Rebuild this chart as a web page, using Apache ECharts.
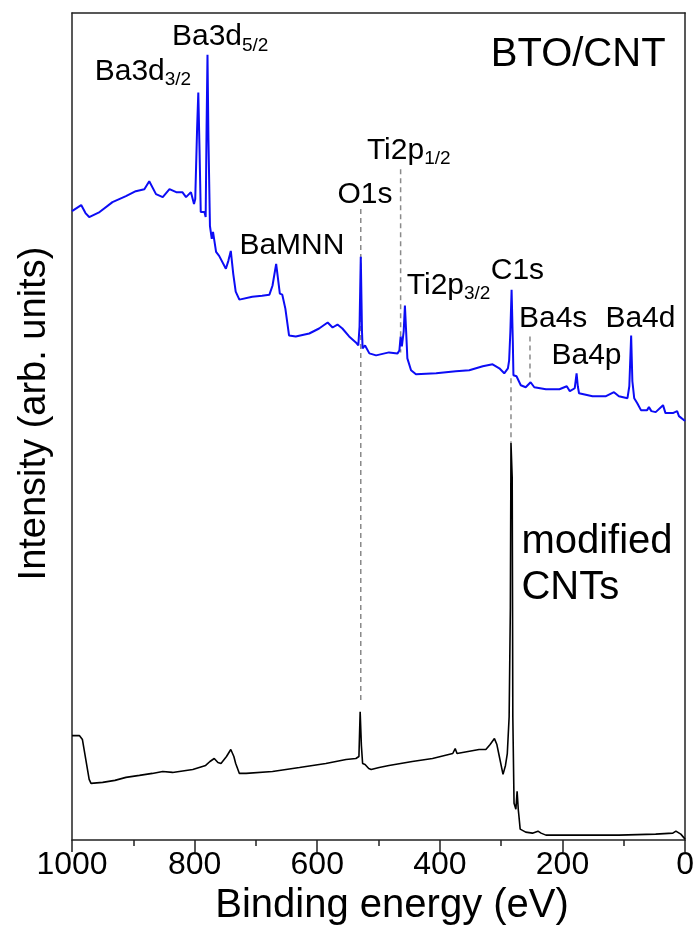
<!DOCTYPE html>
<html>
<head>
<meta charset="utf-8">
<script src="https://cdn.jsdelivr.net/npm/echarts@6/dist/echarts.min.js"></script>
<style>
  html, body { margin: 0; padding: 0; background: #fff; }
  #chart { width: 697px; height: 931px; }
</style>
</head>
<body>
<div id="chart"></div>
<script>
// BTO/CNT survey spectrum (upper trace): binding energy (eV) and intensity (arb. units)
const btoCntEnergy = [1000, 985, 978, 972, 955, 934, 912, 896, 882, 874, 863, 852, 841, 830, 820, 814, 806, 801, 799, 796, 794, 792, 790, 784, 782, 780.5, 779, 777.5, 775, 772, 770, 765, 760, 749, 745, 741, 737, 733, 727, 706, 690, 678, 673, 667, 661, 657, 652, 646, 635, 613, 597, 583, 575, 567, 559, 548, 537, 533, 531, 529, 527, 526, 522, 515, 504, 483, 469, 466, 464, 462, 461, 459, 457, 455, 453, 447, 439, 406, 374, 352, 341, 330, 314, 303, 295, 289, 287, 285, 283, 281, 280, 277, 275, 272, 268, 260, 252, 246, 227, 205, 193, 188, 180, 177, 175, 173, 151, 129, 116, 108, 94, 91, 88, 86, 83, 78, 72, 62, 59, 55, 48, 36, 32, 20, 13, 10, 0];
const btoCntIntensity = [216, 222, 214, 210, 215, 225, 231, 236, 238, 246, 233, 230, 238, 235, 235, 230, 235, 223, 228, 298, 335, 278, 215, 215, 210, 300, 373, 290, 201, 188, 195, 175, 171, 158, 166, 176, 153, 135, 127, 130, 131, 132, 141, 163, 133, 132, 118, 91, 90, 93, 98, 104, 99, 102, 98, 90, 84, 81, 100, 170, 95, 78, 81, 73, 71, 74, 73, 76, 90, 80, 78, 95, 121, 95, 68, 56, 52, 53, 55, 56, 58, 60, 62, 58, 53, 58, 66, 95, 137, 85, 51, 52, 50, 52, 41, 39, 44, 39, 37, 37, 40, 35, 38, 53, 40, 33, 30, 30, 34, 30, 28, 40, 91, 45, 28, 23, 16, 16, 19, 15, 14, 21, 13, 13, 15, 10, 5];

// Modified CNTs survey spectrum (lower trace)
const cntEnergy = [1000, 988, 983, 972, 969, 950, 930, 912, 890, 869, 852, 836, 803, 782, 775, 768, 762, 757, 748, 741, 736, 733, 727, 716, 673, 629, 586, 553, 537, 532, 530, 528, 526, 522, 516, 512, 499, 483, 445, 412, 379, 375, 372, 336, 325, 318, 311, 307, 303, 297, 293, 290, 287, 285, 284, 283, 282, 281, 279, 276, 274, 272, 271, 269, 260, 249, 240, 235, 227, 173, 108, 48, 20, 15, 7, 0];
const cntIntensity = [105, 105, 101, 61, 57, 58, 60, 63, 65, 67, 69, 68, 71, 75, 79, 82, 78, 77, 84, 91, 84, 77, 67, 67, 69, 73, 77, 81, 82, 84, 129, 95, 77, 76, 72, 71, 73, 75, 79, 82, 87, 92, 87, 91, 91, 96, 102, 96, 84, 66, 75, 87, 124, 234, 399, 399, 364, 124, 37, 31, 49, 30, 24, 11, 8, 7, 9, 7, 5, 5, 5, 6, 7, 9, 6, 1];

// Dashed peak guides: energy and vertical extent on the full-height intensity scale
const guideEnergy = [529, 464, 284, 253];
const guideTop = [634, 674, 464, 506];
const guideBottom = [140, 490, 399, 461];

// Peak assignments (text, left edge energy, centre height on the full-height scale)
const peakText = ['Ba3d_{3/2}', 'Ba3d_{5/2}', 'BaMNN', 'O1s', 'Ti2p_{1/2}', 'Ti2p_{3/2}', 'C1s', 'Ba4s', 'Ba4p', 'Ba4d'];
const peakLabelEnergy = [963, 837, 727, 567, 519, 454, 317, 271, 218, 130];
const peakLabelHeight = [772, 807, 597, 648, 693, 557, 572, 524, 487, 524];

// Sample names
const sampleText = ['BTO/CNT', 'modified\nCNTs'];
const sampleLabelEnergy = [317, 267];
const sampleLabelHeight = [789, 276];

// Axis ticks
const xTickMin = 0, xTickMax = 1000, xTickStep = 200;

const FONT = "'Liberation Sans', Arial, Helvetica, sans-serif";

function zip(a, b) { return a.map((v, i) => [v, b[i]]); }

function toRich(s) {
  // "Ba3d_{3/2}" -> "{m|Ba3d}{s|3/2}"
  const m = s.match(/^(.*?)_\{(.*)\}$/);
  if (m) return '{m|' + m[1] + '}{s|' + m[2] + '}';
  return '{m|' + s + '}';
}

const guideSeries = guideEnergy.map((e, i) => ({
  type: 'line',
  xAxisIndex: 0,
  yAxisIndex: 0,
  data: [[e, guideTop[i]], [e, guideBottom[i]]],
  showSymbol: false,
  silent: true,
  z: 1,
  lineStyle: { color: '#8a8a8a', width: 1.5, type: [5, 4] }
}));

const option = {
  animation: false,
  backgroundColor: '#fff',
  grid: { left: 72, right: 10, top: 13, bottom: 87, containLabel: false },
  xAxis: [
    {
      type: 'value', min: xTickMin, max: xTickMax, interval: xTickStep, inverse: true,
      position: 'bottom',
      name: 'Binding energy (eV)', nameLocation: 'middle', nameGap: 40,
      nameTextStyle: { fontFamily: FONT, fontSize: 40, color: '#000', padding: [0, 0, 0, 27] },
      axisLine: { show: true, onZero: false, lineStyle: { color: '#222', width: 1.5 } },
      axisTick: { show: true, inside: false, length: 12, lineStyle: { color: '#222', width: 1.5 } },
      minorTick: { show: true, splitNumber: 2, length: 6, lineStyle: { color: '#222', width: 1.5 } },
      axisLabel: { fontFamily: FONT, fontSize: 32, color: '#000', margin: 9, formatter: v => String(v) },
      splitLine: { show: false }
    },
    {
      type: 'value', min: xTickMin, max: xTickMax, inverse: true, position: 'top',
      axisLine: { show: true, onZero: false, lineStyle: { color: '#222', width: 1.5 } },
      axisTick: { show: false }, axisLabel: { show: false }, splitLine: { show: false }
    }
  ],
  yAxis: [
    {
      type: 'value', min: 0, max: 831, position: 'left',
      name: 'Intensity (arb. units)', nameLocation: 'middle', nameGap: 18, nameRotate: 90,
      nameTextStyle: { fontFamily: FONT, fontSize: 38, color: '#000', padding: [0, 0, 0, 26] },
      axisLine: { show: true, onZero: false, lineStyle: { color: '#222', width: 1.5 } },
      axisTick: { show: false }, axisLabel: { show: false }, splitLine: { show: false }
    },
    {
      type: 'value', min: -416, max: 415, position: 'right',
      axisLine: { show: true, onZero: false, lineStyle: { color: '#222', width: 1.5 } },
      axisTick: { show: false }, axisLabel: { show: false }, splitLine: { show: false }
    }
  ],
  series: [
    ...guideSeries,
    {
      name: 'BTO/CNT', type: 'line', xAxisIndex: 0, yAxisIndex: 1,
      data: zip(btoCntEnergy, btoCntIntensity),
      showSymbol: false, z: 2,
      lineStyle: { color: '#0c0cf5', width: 2 }
    },
    {
      name: 'modified CNTs', type: 'line', xAxisIndex: 0, yAxisIndex: 0,
      data: zip(cntEnergy, cntIntensity),
      showSymbol: false, z: 2,
      lineStyle: { color: '#000', width: 1.6 }
    },
    {
      name: 'peaks', type: 'scatter', xAxisIndex: 0, yAxisIndex: 0,
      symbolSize: 0, silent: true, z: 3,
      itemStyle: { opacity: 1 },
      data: peakText.map((t, i) => ({ value: [peakLabelEnergy[i], peakLabelHeight[i]], name: t })),
      label: {
        show: true, position: 'right', distance: 0, opacity: 1, color: '#000',
        formatter: p => toRich(p.name),
        rich: {
          m: { fontFamily: FONT, fontSize: 30, lineHeight: 36, color: '#000' },
          s: { fontFamily: FONT, fontSize: 19, lineHeight: 16, verticalAlign: 'bottom', color: '#000' }
        }
      }
    },
    {
      name: 'samples', type: 'scatter', xAxisIndex: 0, yAxisIndex: 0,
      symbolSize: 0, silent: true, z: 3,
      itemStyle: { opacity: 1 },
      data: sampleText.map((t, i) => ({ value: [sampleLabelEnergy[i], sampleLabelHeight[i]], name: t })),
      label: {
        show: true, position: 'right', distance: 0, opacity: 1,
        formatter: p => p.name,
        fontFamily: FONT, fontSize: 40, lineHeight: 46, color: '#000'
      }
    }
  ]
};

const chart = echarts.init(document.getElementById('chart'), null, { renderer: 'canvas' });
chart.setOption(option);
</script>
</body>
</html>
